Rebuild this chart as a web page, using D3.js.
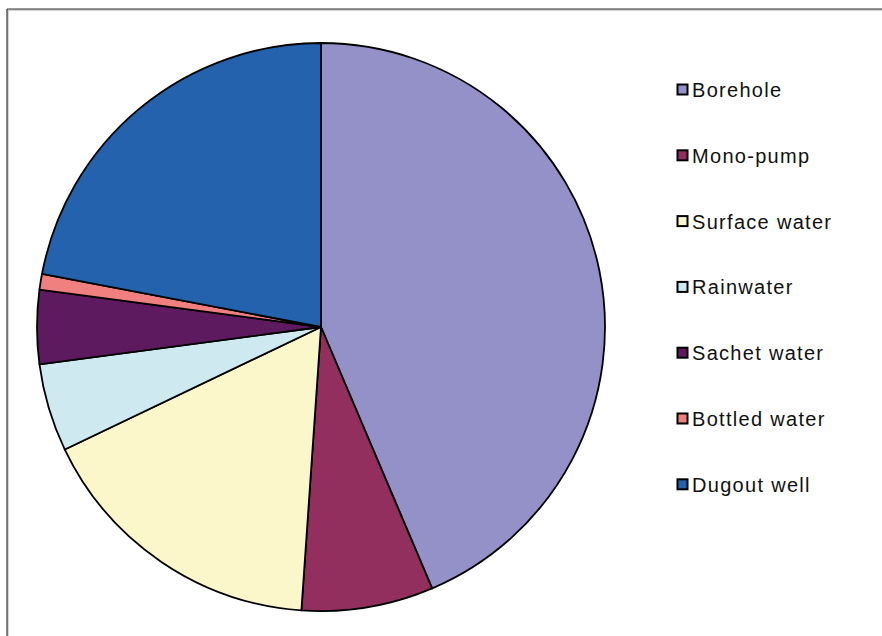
<!DOCTYPE html>
<html>
<head>
<meta charset="utf-8">
<script src="https://cdn.jsdelivr.net/npm/d3@7"></script>
<style>
  html, body { margin: 0; padding: 0; background: #fff; }
  svg { display: block; }
</style>
</head>
<body>
<script>
// Sources of drinking water (share of households, %)
const categories = ["Borehole", "Mono-pump", "Surface water", "Rainwater", "Sachet water", "Bottled water", "Dugout well"];
const shares = [43.6, 7.5, 16.8, 5.0, 4.2, 0.9, 22.0];
const colors = ["#9490c8", "#922f5f", "#fbf7cb", "#cfe9f0", "#5e1a5e", "#f08080", "#2462ad"];

const W = 882, H = 636;
const cx = 321, cy = 327, R = 284;

const svg = d3.select("body").append("svg")
  .attr("width", W).attr("height", H);

// frame: top and left edges of the chart area
svg.append("line").attr("x1", 7).attr("x2", W).attr("y1", 10).attr("y2", 10)
  .attr("stroke", "#aaa").attr("stroke-width", 1);
svg.append("line").attr("x1", 7).attr("x2", W).attr("y1", 9).attr("y2", 9)
  .attr("stroke", "#333").attr("stroke-width", 1.2);
svg.append("line").attr("x1", 8).attr("x2", 8).attr("y1", 9).attr("y2", H)
  .attr("stroke", "#aaa").attr("stroke-width", 1);
svg.append("line").attr("x1", 7).attr("x2", 7).attr("y1", 9).attr("y2", H)
  .attr("stroke", "#333").attr("stroke-width", 1.2);

const data = categories.map((c, i) => ({ name: c, value: shares[i], color: colors[i] }));

const pie = d3.pie().value(d => d.value).sort(null);
const arc = d3.arc().innerRadius(0).outerRadius(R);

const g = svg.append("g").attr("transform", `translate(${cx},${cy})`);
g.selectAll("path")
  .data(pie(data))
  .join("path")
  .attr("d", arc)
  .attr("fill", d => d.data.color)
  .attr("stroke", "#000")
  .attr("stroke-width", 1.8)
  .attr("stroke-linejoin", "round");

// legend
const legendX = 677, legendY0 = 90, legendStep = 65.8;
const lg = svg.append("g");
const item = lg.selectAll("g")
  .data(data)
  .join("g")
  .attr("transform", (d, i) => `translate(${legendX},${legendY0 + i * legendStep})`);

item.append("rect")
  .attr("x", 0.5).attr("y", -5.5)
  .attr("width", 10).attr("height", 10)
  .attr("fill", d => d.color)
  .attr("stroke", "#000").attr("stroke-width", 2);

item.append("text")
  .attr("x", 15).attr("y", 7)
  .attr("font-family", "Arial, 'Liberation Sans', sans-serif")
  .attr("font-size", 20)
  .attr("letter-spacing", "1.3px")
  .attr("fill", "#111")
  .text(d => d.name);
</script>
</body>
</html>
